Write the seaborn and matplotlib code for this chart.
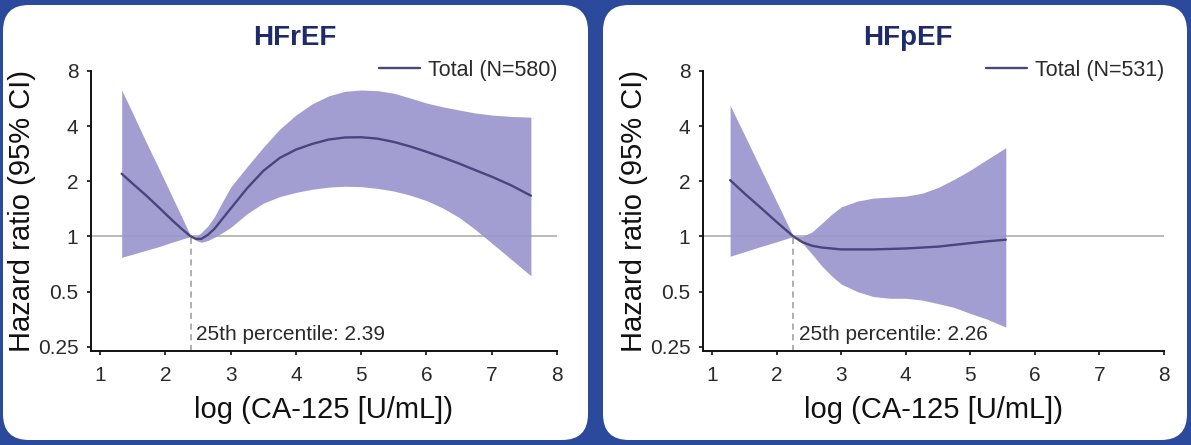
import numpy as np
import pandas as pd
import matplotlib
matplotlib.use("Agg")
import matplotlib.pyplot as plt
from matplotlib.patches import FancyBboxPatch
from matplotlib.ticker import FixedLocator, FixedFormatter, NullLocator
import seaborn as sns

# ---------------- data ----------------
titles = ["HFrEF", "HFpEF"]
legend_labels = ["Total (N=580)", "Total (N=531)"]
percentile_values = [2.39, 2.26]
percentile_labels = ["25th percentile: 2.39", "25th percentile: 2.26"]

hfref_x = [1.33, 1.5, 1.7, 1.9, 2.1, 2.25, 2.39, 2.47, 2.55, 2.65, 2.75, 2.875, 3.0,
           3.25, 3.5, 3.75, 4.0, 4.25, 4.5, 4.75, 5.0, 5.25, 5.5, 5.75, 6.0, 6.25,
           6.5, 6.75, 7.0, 7.3, 7.6]
hfref_hr = [2.2, 1.94, 1.68, 1.44, 1.23, 1.1, 1.0, 0.97, 0.97, 1.02, 1.1, 1.25, 1.42,
            1.83, 2.28, 2.68, 2.98, 3.2, 3.38, 3.47, 3.48, 3.42, 3.28, 3.1, 2.9, 2.7,
            2.5, 2.3, 2.12, 1.9, 1.67]
hfref_upper = [6.3, 4.7, 3.3, 2.35, 1.66, 1.28, 1.0, 1.0, 1.05, 1.14, 1.28, 1.55, 1.86,
               2.4, 3.07, 3.85, 4.6, 5.3, 5.85, 6.2, 6.3, 6.25, 6.05, 5.7, 5.35, 5.1,
               4.9, 4.72, 4.6, 4.52, 4.48]
hfref_lower = [0.77, 0.8, 0.84, 0.88, 0.93, 0.966, 1.0, 0.95, 0.93, 0.95, 0.99, 1.05, 1.12,
               1.33, 1.52, 1.65, 1.74, 1.81, 1.86, 1.88, 1.87, 1.83, 1.77, 1.68, 1.57, 1.43,
               1.27, 1.09, 0.92, 0.75, 0.61]

hfpef_x = [1.28, 1.5, 1.75, 2.0, 2.26, 2.4, 2.55, 2.7, 2.85, 3.0, 3.25, 3.5, 3.75,
           4.0, 4.25, 4.5, 4.75, 5.0, 5.25, 5.55]
hfpef_hr = [2.03, 1.72, 1.44, 1.2, 1.0, 0.93, 0.89, 0.87, 0.86, 0.85, 0.85, 0.85, 0.855,
            0.86, 0.87, 0.88, 0.9, 0.92, 0.94, 0.96]
hfpef_upper = [5.2, 3.6, 2.36, 1.55, 1.0, 1.0, 1.06, 1.18, 1.32, 1.45, 1.56, 1.62, 1.64,
               1.66, 1.72, 1.85, 2.05, 2.3, 2.62, 3.05]
hfpef_lower = [0.78, 0.825, 0.88, 0.936, 1.0, 0.92, 0.8, 0.69, 0.61, 0.55, 0.5, 0.47, 0.46,
               0.46, 0.45, 0.43, 0.41, 0.38, 0.355, 0.32]

x_ticks = [1, 2, 3, 4, 5, 6, 7, 8]
y_ticks = [0.25, 0.5, 1, 2, 4, 8]
y_tick_labels = ["0.25", "0.5", "1", "2", "4", "8"]

# ---------------- style ----------------
sns.set_theme(style="white")
plt.rcParams["font.family"] = ["Liberation Sans", "DejaVu Sans"]

BG = "#2b4a9b"
FILL = "#9a96cd"
LINE = "#48457f"
TITLE_C = "#1d2b6c"
TXT = "#2a2a2a"

W, H = 1191, 445
fig = plt.figure(figsize=(W / 100, H / 100), dpi=100)
fig.patch.set_facecolor(BG)

# white rounded panels (in inches)
for (x0, x1) in [(3, 588), (603, 1187)]:
    p = FancyBboxPatch((x0 / 100, 5 / 100), (x1 - x0) / 100, (440 - 5) / 100,
                       boxstyle="round,pad=0,rounding_size=0.26",
                       transform=fig.dpi_scale_trans, facecolor="white",
                       edgecolor="none", zorder=-10)
    fig.patches.append(p)

panels = [
    (hfref_x, hfref_hr, hfref_lower, hfref_upper),
    (hfpef_x, hfpef_hr, hfpef_lower, hfpef_upper),
]
ax_lefts = [91, 703]
ax_rights = [557, 1164]
ax_top, ax_bottom = 71, 350.7
title_centers = [295, 908]

for i, (xs, hr, lo, up) in enumerate(panels):
    l, r = ax_lefts[i], ax_rights[i]
    ax = fig.add_axes([l / W, (H - ax_bottom) / H, (r - l) / W, (ax_bottom - ax_top) / H])
    ax.set_zorder(5)
    ax.set_facecolor("none")
    df = pd.DataFrame({"x": xs, "hr": hr, "lo": lo, "up": up})

    ax.set_yscale("log", base=2)
    ax.set_xlim(0.86, 8.0)
    ax.set_ylim(0.238, 8.0)

    ax.axhline(1, color="#b4b4b4", lw=1.3, zorder=1)
    ax.fill_between(df["x"], df["lo"], df["up"], color=FILL, alpha=0.92,
                    lw=0, zorder=2)
    sns.lineplot(data=df, x="x", y="hr", ax=ax, color=LINE, lw=1.7,
                 estimator=None, sort=False, label=legend_labels[i], zorder=3)

    pv = percentile_values[i]
    ax.plot([pv, pv], [0.238, 1.0], color="#9a9a9a", lw=1.1, ls=(0, (4, 3)), zorder=1)
    ax.text(pv + 0.08, 0.258, percentile_labels[i], fontsize=15, color=TXT,
            ha="left", va="bottom")

    ax.yaxis.set_major_locator(FixedLocator(y_ticks))
    ax.yaxis.set_major_formatter(FixedFormatter(y_tick_labels))
    ax.yaxis.set_minor_locator(NullLocator())
    ax.set_xticks(x_ticks)
    ax.set_xticklabels([str(t) for t in x_ticks])

    for s in ["top", "right"]:
        ax.spines[s].set_visible(False)
    for s in ["left", "bottom"]:
        ax.spines[s].set_color("#111111")
        ax.spines[s].set_linewidth(1.4)
    ax.tick_params(axis="both", which="major", length=3, width=1.2, color="#111111",
                   labelsize=15, labelcolor=TXT, direction="out",
                   left=True, bottom=True)
    ax.tick_params(axis="x", pad=8)
    ax.tick_params(axis="y", pad=6)

    ax.set_xlabel("log (CA-125 [U/mL])", fontsize=21, color="#111111", labelpad=8)
    ax.set_ylabel("Hazard ratio (95% CI)", fontsize=21, color="#111111", labelpad=1)

    leg = ax.legend(loc="upper right", bbox_to_anchor=(1.02, 1.07), frameon=False,
                    fontsize=15.5, handlelength=1.9, handletextpad=0.4,
                    borderaxespad=0)
    for t in leg.get_texts():
        t.set_color(TXT)

    fig.text(title_centers[i] / W, 1 - 38 / H, titles[i], ha="center", va="center",
             fontsize=20, fontweight="bold", color=TITLE_C)

fig.savefig("out.png", dpi=100, facecolor=BG)
